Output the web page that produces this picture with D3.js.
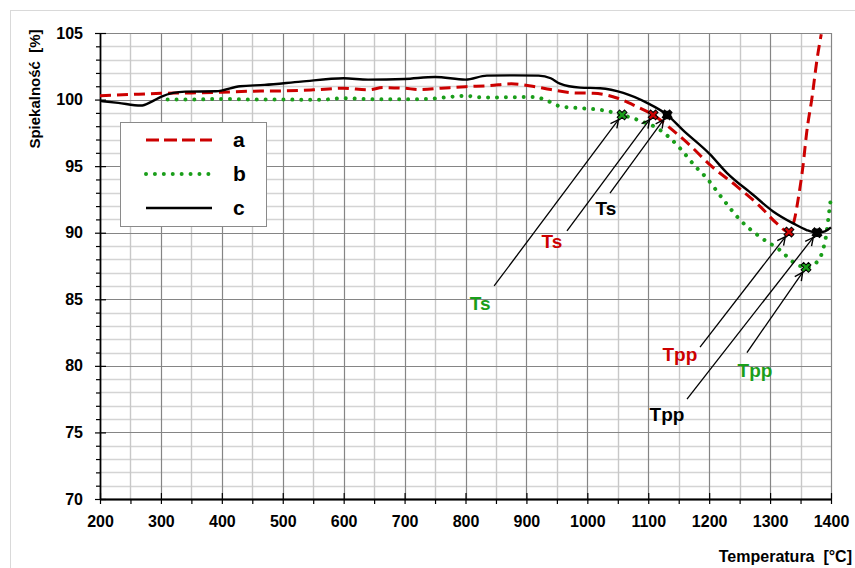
<!DOCTYPE html>
<html>
<head>
<meta charset="utf-8">
<script src="https://cdn.jsdelivr.net/npm/d3@7"></script>
<style>
html,body{margin:0;padding:0;background:#fff;}
svg{display:block;font-family:"Liberation Sans",Arial,sans-serif;}
</style>
</head>
<body>
<svg id="chart" width="855" height="568"></svg>
<script>
// ---- data ----
const xTicks = [200,300,400,500,600,700,800,900,1000,1100,1200,1300,1400];
const yTicks = [70,75,80,85,90,95,100,105];
const seriesNames = ["a","b","c"];
const seriesColors = ["#cc0000","#1a9e1a","#000000"];

const seriesA = [[200,100.28],[250,100.38],[300,100.47],[350,100.5],[400,100.55],[450,100.63],[500,100.65],[550,100.73],[600,100.85],[640,100.73],[665,100.9],[700,100.85],[725,100.75],[760,100.85],[800,100.97],[840,101.05],[875,101.18],[910,101.0],[940,100.75],[980,100.5],[1010,100.48],[1050,100.1],[1080,99.5],[1108,98.85],[1140,97.7],[1170,96.5],[1200,95.15],[1245,93.5],[1283,92.0],[1311,90.7],[1331,90.05],[1341,91.2],[1346,92.5],[1354,95.0],[1360,97.5],[1369,100.2],[1377,103.0],[1384,104.9]];

const seriesB = [[311,100.0],[350,100.0],[400,100.05],[450,100.0],[500,100.0],[560,99.98],[600,100.1],[650,100.02],[700,100.02],[740,100.05],[760,100.13],[800,100.28],[830,100.15],[880,100.18],[910,100.2],[930,100.0],[955,99.5],[990,99.35],[1025,99.2],[1057,98.85],[1090,98.35],[1115,97.85],[1136,97.1],[1152,96.35],[1177,95.0],[1196,94.1],[1223,92.5],[1251,90.95],[1283,89.7],[1316,88.7],[1341,87.7],[1359,87.4],[1377,87.8],[1386,88.6],[1392,89.8],[1396,91.2],[1400,92.7]];

const seriesC = [[200,99.9],[230,99.75],[267,99.55],[285,99.85],[300,100.2],[320,100.5],[340,100.6],[390,100.62],[430,101.0],[470,101.1],[530,101.35],[600,101.6],[640,101.5],[700,101.55],[750,101.7],[800,101.5],[835,101.8],[880,101.82],[920,101.8],[940,101.6],[955,101.2],[988,100.9],[1021,100.85],[1059,100.5],[1098,99.75],[1131,98.85],[1157,97.7],[1201,95.9],[1229,94.5],[1272,92.85],[1305,91.6],[1338,90.7],[1360,90.2],[1377,90.0],[1390,90.1],[1400,90.4]];

// characteristic points: [series index, T, value]
const tsPoints  = [[1,1057,98.85],[0,1108,98.85],[2,1131,98.85]];
const tppPoints = [[0,1331,90.05],[2,1377,90.0],[1,1359,87.4]];
// annotation labels: [text, series index, label T, label value, arrow start T, arrow start value, target T, target value]
const annotations = [
  ["Ts",1,824,84.7,847,86.0,1057,98.85],
  ["Ts",0,942,89.4,966.6,90.13,1108,98.85],
  ["Ts",2,1030.6,91.86,1037.2,92.98,1131,98.85],
  ["Tpp",0,1152,80.9,1185,81.4,1331,90.05],
  ["Tpp",2,1130.7,76.4,1163.6,77.5,1377,90.0],
  ["Tpp",1,1275.2,79.7,1262,81.0,1359,87.4]
];

// ---- drawing ----
const svg = d3.select("#chart");
const x = d3.scaleLinear().domain([200,1400]).range([100,831]);
const y = d3.scaleLinear().domain([70,105]).range([499,33]);

// outer border
svg.append("rect").attr("x",10.5).attr("y",10.5).attr("width",860).attr("height",570)
  .attr("fill","#fff").attr("stroke","#d9d9d9").attr("stroke-width",1);

// grid
const g = svg.append("g");
const minorY = d3.range(70,105.001,1).filter(v=>v%5!==0);
const minorX = d3.range(250,1400,100);
g.selectAll(".hmin").data(minorY).join("line")
  .attr("x1",x(200)).attr("x2",x(1400)).attr("y1",d=>Math.round(y(d))+0.5).attr("y2",d=>Math.round(y(d))+0.5)
  .attr("stroke","#d4d4d4").attr("stroke-width",1.6);
g.selectAll(".vmin").data(minorX).join("line")
  .attr("y1",y(70)).attr("y2",y(105)).attr("x1",d=>Math.round(x(d))+0.5).attr("x2",d=>Math.round(x(d))+0.5)
  .attr("stroke","#c8c8c8").attr("stroke-width",1.4);
g.selectAll(".hmaj").data(yTicks.filter(v=>v>70)).join("line")
  .attr("x1",x(200)).attr("x2",x(1400)).attr("y1",d=>Math.round(y(d))+0.5).attr("y2",d=>Math.round(y(d))+0.5)
  .attr("stroke","#858585").attr("stroke-width",1.2);
g.selectAll(".vmaj").data(xTicks.filter(v=>v>200)).join("line")
  .attr("y1",y(70)).attr("y2",y(105)).attr("x1",d=>Math.round(x(d))+0.5).attr("x2",d=>Math.round(x(d))+0.5)
  .attr("stroke","#858585").attr("stroke-width",1.2);

// axes
const fontTick = "bold 16px 'Liberation Sans', Arial, sans-serif";
svg.append("g").attr("transform",`translate(0,${y(70)})`)
  .call(d3.axisBottom(x).tickValues(xTicks).tickSizeInner(5).tickSizeOuter(0).tickPadding(12).tickFormat(d3.format("d")));
svg.append("g").attr("transform",`translate(0,${y(70)})`)
  .call(d3.axisBottom(x).tickValues(minorX).tickSizeInner(5).tickSizeOuter(0).tickFormat(""));
svg.append("g").attr("transform",`translate(0,${y(70)})`)
  .call(d3.axisBottom(x).tickValues(xTicks).tickSizeInner(-6).tickSizeOuter(0).tickFormat(""));
svg.append("g").attr("transform",`translate(${x(200)},0)`)
  .call(d3.axisLeft(y).tickValues(yTicks).tickSizeInner(5).tickSizeOuter(0).tickPadding(12).tickFormat(d3.format("d")));
svg.append("g").attr("transform",`translate(${x(200)},0)`)
  .call(d3.axisLeft(y).tickValues(minorY).tickSizeInner(4).tickSizeOuter(0).tickFormat(""));
svg.append("g").attr("transform",`translate(${x(200)},0)`)
  .call(d3.axisLeft(y).tickValues(yTicks).tickSizeInner(-6).tickSizeOuter(0).tickFormat(""));
svg.selectAll(".domain").attr("stroke","#000").attr("stroke-width",1.3);
svg.selectAll(".tick line").attr("stroke","#000").attr("stroke-width",1.2);
svg.selectAll(".tick text").style("font",fontTick).attr("fill","#000");

// axis titles
svg.append("text").attr("transform",`translate(40,89) rotate(-90)`).attr("text-anchor","middle")
  .style("font","bold 15px 'Liberation Sans', Arial, sans-serif").style("white-space","pre")
  .text("Spiekalność  [%]");
svg.append("text").attr("x",852).attr("y",562).attr("text-anchor","end")
  .style("font","bold 16px 'Liberation Sans', Arial, sans-serif").style("white-space","pre")
  .text("Temperatura  [°C]");

// series
const line = d3.line().x(d=>x(d[0])).y(d=>y(d[1])).curve(d3.curveMonotoneX);
const styles = [
  {dash:"11,6", width:3, cap:"butt"},
  {dash:"0.01,8.9", width:4, cap:"round"},
  {dash:null, width:2.4, cap:"butt"}
];
const allSeries = [seriesA, seriesB, seriesC];
const plot = svg.append("g");
allSeries.forEach((s,i)=>{
  const p = plot.append("path").datum(s).attr("d",line).attr("fill","none")
    .attr("stroke",seriesColors[i]).attr("stroke-width",styles[i].width)
    .attr("stroke-linecap",styles[i].cap).attr("stroke-linejoin","round");
  if(styles[i].dash) p.attr("stroke-dasharray",styles[i].dash);
});

// arrows
const defs = svg.append("defs");
defs.append("marker").attr("id","arr").attr("viewBox","-1 -5 11 10").attr("refX",8).attr("refY",0)
  .attr("markerWidth",11).attr("markerHeight",10).attr("markerUnits","userSpaceOnUse").attr("orient","auto")
  .append("path").attr("d","M0,-4 L8,0 L0,4").attr("fill","none").attr("stroke","#000").attr("stroke-width",1.4);

annotations.forEach(a=>{
  const [txt,si,lt,lv,st,sv,tt,tv] = a;
  const x0=x(st), y0=y(sv), x1=x(tt), y1=y(tv);
  const dx=x1-x0, dy=y1-y0, L=Math.hypot(dx,dy);
  const back=6;
  svg.append("line").attr("x1",x0).attr("y1",y0)
    .attr("x2",x1-dx/L*back).attr("y2",y1-dy/L*back)
    .attr("stroke","#000").attr("stroke-width",1.3).attr("marker-end","url(#arr)");
  svg.append("text").attr("x",x(lt)).attr("y",y(lv)).attr("dy","0.36em").attr("text-anchor","middle")
    .style("font","bold 19px 'Liberation Sans', Arial, sans-serif")
    .attr("fill", si===2 ? "#000" : seriesColors[si]).text(txt);
});

// markers
const xSym = d3.symbol().type(d3.symbolCross).size(60);
[...tsPoints, ...tppPoints].forEach(p=>{
  const [si,t,v] = p;
  const gm = svg.append("g").attr("transform",`translate(${x(t)},${y(v)})`);
  gm.append("path").attr("d",xSym()).attr("transform","rotate(45)")
    .attr("fill",seriesColors[si]).attr("stroke","#000").attr("stroke-width",1);
  if(si===2){
    gm.append("path").attr("d",d3.symbol().type(d3.symbolCross).size(40)()).attr("fill","#000");
  }
});

// legend
const lg = svg.append("g");
lg.append("rect").attr("x",120.5).attr("y",122.5).attr("width",146).attr("height",104)
  .attr("fill","#fff").attr("stroke","#8a8a8a").attr("stroke-width",1);
const legendY = [140,174,208];
seriesNames.forEach((n,i)=>{
  const l = lg.append("line").attr("x1",146).attr("x2",i===1?209:212).attr("y1",legendY[i]).attr("y2",legendY[i])
    .attr("stroke",seriesColors[i]).attr("stroke-width",styles[i].width).attr("stroke-linecap",styles[i].cap);
  if(styles[i].dash) l.attr("stroke-dasharray",i===0?"13,5":styles[i].dash);
  lg.append("text").attr("x",233).attr("y",legendY[i]+7).style("font","bold 21px 'Liberation Sans', Arial, sans-serif")
    .attr("fill","#000").text(n);
});
</script>
</body>
</html>
